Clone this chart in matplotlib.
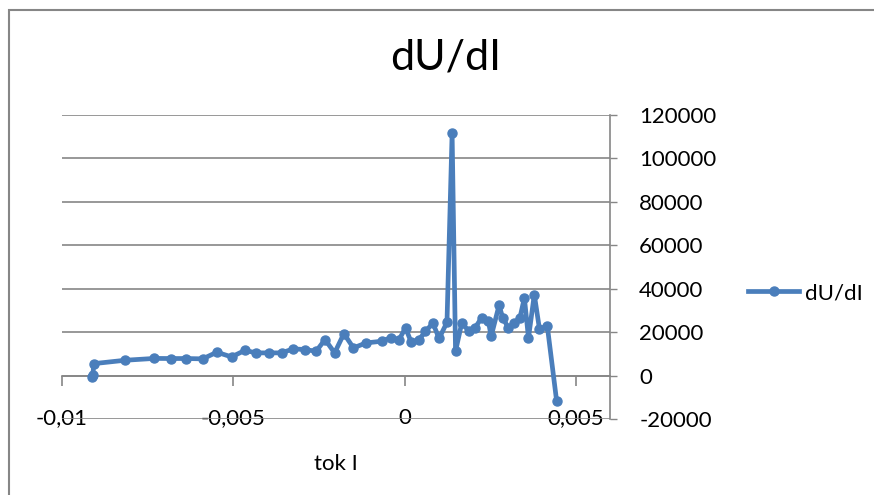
import matplotlib
matplotlib.use("Agg")
import matplotlib.pyplot as plt
from matplotlib.patches import Rectangle
from matplotlib.ticker import FuncFormatter

# ---- data ----
tok_I = [-0.00912, -0.00910, -0.00907, -0.00816, -0.00730, -0.00683, -0.00638,
         -0.00589, -0.00548, -0.00505, -0.00466, -0.00433, -0.00395, -0.00359,
         -0.00325, -0.00291, -0.00258, -0.00232, -0.00204, -0.00177, -0.00149,
         -0.00112, -0.00067, -0.00040, -0.00016, 0.00003, 0.00019, 0.00041,
         0.00061, 0.00083, 0.00101, 0.00124, 0.00139, 0.00149, 0.00167,
         0.00189, 0.00206, 0.00225, 0.00245, 0.00253, 0.00276, 0.00287,
         0.00303, 0.00321, 0.00337, 0.00350, 0.00362, 0.00379, 0.00394,
         0.00417, 0.00444]
dU_dI = [-500, 300, 5500, 7050, 7900, 7850, 7850,
         7700, 10750, 8600, 11600, 10450, 10450, 10450,
         12300, 12000, 11200, 16600, 10450, 19300, 12750,
         15050, 15800, 17500, 16500, 22000, 15600, 16200,
         20400, 24100, 17100, 24500, 111500, 11200, 24100,
         20400, 22000, 26600, 25000, 18100, 32300, 26600,
         22000, 24300, 26600, 35800, 17350, 37300, 21500,
         22700, -11500]

x_ticks = [-0.01, -0.005, 0, 0.005]
y_ticks = [-20000, 0, 20000, 40000, 60000, 80000, 100000, 120000]
title = "dU/dI"
series_name = "dU/dI"
x_title = "tok I"

# ---- style ----
W, H = 874, 495
blue = "#4A7EBB"
grey = "#868686"
font = "Lato"
fs = 16

fig = plt.figure(figsize=(W / 100, H / 100), dpi=100)
fig.patch.set_facecolor("white")

# outer chart border (extends beyond right/bottom edge as in reference)
fig.patches.append(Rectangle((9 / W, -0.05), 1.2, 1 - 10 / H + 0.05,
                             transform=fig.transFigure, fill=False,
                             edgecolor=grey, linewidth=1.5))

left, right, top, bottom = 62, 610, 115, 419
ax = fig.add_axes([left / W, 1 - bottom / H, (right - left) / W, (bottom - top) / H])

ax.plot(tok_I, dU_dI, color=blue, linewidth=3.4, marker="o", markersize=6.5,
        markerfacecolor=blue, markeredgecolor=blue, label=series_name,
        solid_joinstyle="round", zorder=3)

ax.set_xlim(-0.01, 0.006)
ax.set_ylim(-20000, 120000)

# y axis on the right
ax.yaxis.tick_right()
ax.set_yticks(y_ticks)
ax.yaxis.set_major_formatter(FuncFormatter(lambda v, p: f"{int(v)}"))
ax.tick_params(axis="y", direction="out", length=5, width=1, color=grey,
               labelsize=fs, pad=16)
for lab in ax.get_yticklabels():
    lab.set_fontfamily(font)

# grid
ax.grid(axis="y", color=grey, linewidth=1.2, zorder=0)
ax.grid(axis="x", visible=False)

for s in ["top", "left", "bottom"]:
    ax.spines[s].set_visible(False)
ax.spines["right"].set_color(grey)
ax.spines["right"].set_linewidth(1.2)

# x tick labels at bottom (gridline passes through them), no tick marks here
ax.set_xticks(x_ticks)
ax.xaxis.set_major_formatter(FuncFormatter(
    lambda v, p: ("0" if abs(v) < 1e-12 else f"{v:g}".replace(".", ","))))
ax.tick_params(axis="x", length=0, labelsize=fs, pad=-8)
for lab in ax.get_xticklabels():
    lab.set_fontfamily(font)

# x axis line at y = 0 with tick marks
sec = ax.secondary_xaxis(0, transform=ax.transData)
sec.set_xticks(x_ticks)
sec.tick_params(axis="x", direction="out", length=7, width=1.2, color=grey,
                labelbottom=False)
sec.spines["bottom"].set_color(grey)
sec.spines["bottom"].set_linewidth(1.2)

ax.set_xlabel(x_title, fontsize=fs, fontfamily=font, labelpad=19)

fig.text(446 / W, 1 - 57 / H, title, fontsize=31, fontfamily=font,
         ha="center", va="center")

leg = ax.legend(loc="center left", bbox_to_anchor=(737 / W, 1 - 293 / H),
                bbox_transform=fig.transFigure, frameon=False,
                prop={"family": font, "size": fs}, handlelength=2.3,
                handletextpad=0.25, borderpad=0)

fig.savefig("out.png", dpi=100)
